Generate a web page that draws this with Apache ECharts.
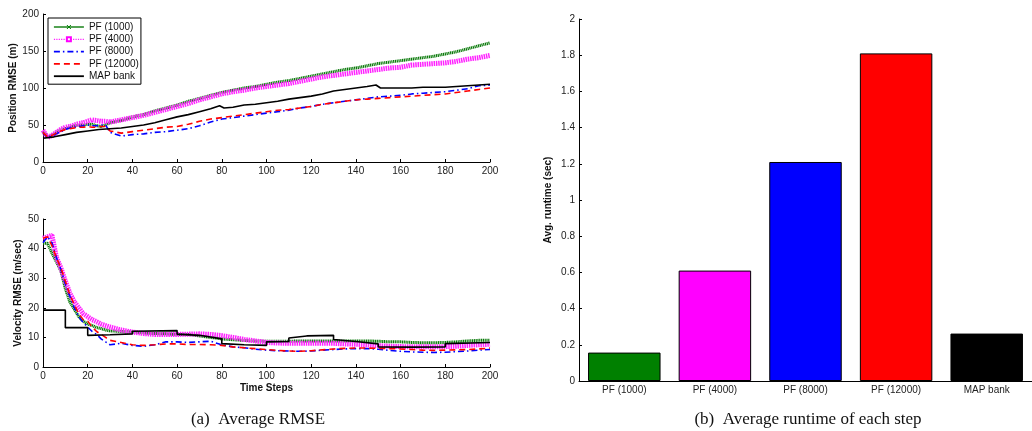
<!doctype html>
<html lang="en">
<head>
    <meta charset="utf-8">
    <title>Average RMSE and runtime</title>
    <script src="https://cdn.jsdelivr.net/npm/echarts@6/dist/echarts.min.js"></script>
    <style>
        html, body { margin: 0; padding: 0; background: #fff; }
    </style>
</head>
<body>

<div id="main" style="width:1032px;height:431px;"></div>

<script>
    // 时间步（位置/速度曲线共用）
    var timeSteps = [0, 2, 4, 6, 8, 10, 12, 14, 16, 18, 20, 22, 24, 26, 28, 30,
        35, 40, 45, 50, 55, 60, 65, 70, 75, 80, 85, 90, 95, 100, 105, 110, 115, 120,
        125, 130, 135, 140, 145, 150, 155, 160, 165, 170, 175, 180, 185, 190, 195, 200];

    // Position RMSE (m)
    var pf1000Pos = [42, 34, 36, 40, 43, 45, 47, 49, 50, 50, 51, 51, 49, 48, 50, 53,
        56, 61, 64, 69, 73, 77, 82, 86, 90, 94, 97, 100, 102, 105, 108, 110, 113, 116,
        119, 122, 125, 127, 130, 133, 135, 137, 139, 141, 143, 146, 149, 153, 157, 161];
    var pf4000Pos = [43, 33, 36, 40, 44, 47, 48, 50, 52, 53, 55, 57, 56, 55, 55, 54,
        57, 60, 63, 67, 71, 75, 79, 84, 88, 92, 95, 97, 100, 102, 104, 106, 109, 112,
        115, 117, 119, 121, 123, 125, 127, 128, 131, 132, 133, 134, 136, 139, 141, 144];
    var pf8000Pos = [40, 33, 35, 38, 41, 44, 46, 47, 48, 49, 50, 49, 49, 50, 50, 40,
        35, 37, 38, 40, 41, 43, 45, 49, 54, 58, 60, 62, 64, 66, 68, 70, 73, 75,
        78, 80, 82, 84, 86, 88, 89, 90, 92, 93, 94, 95, 97, 99, 103, 104];
    var pf12000Pos = [40, 34, 36, 39, 42, 44, 45, 46, 47, 47, 48, 47, 47, 48, 48, 42,
        39, 41, 43, 45, 47, 48, 51, 55, 58, 60, 62, 64, 66, 68, 70, 71, 73, 75,
        78, 80, 82, 84, 85, 86, 87, 88, 89, 90, 91, 92, 94, 96, 98, 100];
    var mapPosSteps = [0, 5, 10, 15, 20, 25, 30, 35, 40, 45, 50, 55, 60, 65, 70, 75, 79, 81,
        85, 90, 95, 100, 105, 110, 115, 120, 125, 130, 135, 140, 145, 149, 151,
        155, 160, 165, 170, 175, 180, 185, 190, 195, 200];
    var mapPos = [32, 34, 37, 40, 42, 44, 45, 46, 48, 50, 53, 57, 61, 64, 68, 72, 76, 73,
        74, 77, 78, 80, 82, 85, 87, 89, 92, 96, 98, 100, 102, 104, 100,
        100, 100, 100, 101, 101, 101, 102, 103, 104, 105];

    // Velocity RMSE (m/sec)
    var pf1000Vel = [41.8, 41.8, 38.5, 35.5, 32.5, 26.5, 22, 19.5, 17, 15.5, 14.5, 14, 13.3, 13, 12.5, 12.2,
        12, 11.8, 11.5, 11.3, 11.2, 11, 11, 10.5, 10, 9.5, 9.2, 9, 8.8, 8.7, 8.7, 8.7, 8.8, 8.8,
        8.8, 8.8, 8.8, 8.8, 8.8, 8.7, 8.5, 8.5, 8.3, 8.2, 8.2, 8.3, 8.5, 8.8, 9, 9];
    var pf4000Vel = [43.5, 44, 44.5, 37, 33.5, 29, 25, 22, 20, 18, 17, 16, 15.3, 14.5, 14, 13.5,
        12.5, 11.8, 11.3, 11, 11, 11, 11.1, 11.2, 11, 10.6, 10, 9.3, 8.8, 8.3, 8.1, 8, 8, 8,
        8, 8, 7.8, 7.7, 7.5, 7.2, 7, 6.9, 6.8, 6.8, 6.8, 6.9, 7, 7.3, 7.5, 7.7];
    var pf8000Vel = [42, 44, 42, 37, 33, 28, 24, 20, 17, 15, 13.5, 12, 11, 9.5, 8.5, 7.5,
        8, 7.3, 7, 7.5, 8.5, 8.5, 8.3, 8.5, 8.7, 7.5, 6.8, 6.5, 6, 5.7, 5.5, 5.4, 5.3, 5.4,
        5.7, 5.9, 6.1, 6.2, 6.2, 6, 5.6, 5.3, 5.1, 5, 4.9, 5, 5.2, 5.4, 5.7, 5.9];
    var pf12000Vel = [43.5, 44, 41, 37, 33.5, 29, 24.5, 21, 18, 16, 15.5, 13.5, 12, 11, 10, 9,
        8.3, 7.5, 7.3, 7.5, 7.8, 7.8, 7.6, 7.6, 7.5, 7.3, 6.8, 6.5, 6.2, 5.9, 5.6, 5.4, 5.3, 5.5,
        5.8, 6.1, 6.3, 6.4, 6.4, 6.3, 6.2, 6.1, 5.9, 5.7, 5.6, 5.7, 5.8, 5.9, 6.1, 6.4];
    var mapVelSteps = [0, 10, 10, 20, 20, 30, 40, 40, 60, 60, 70, 80, 80, 90, 100, 100, 110, 110,
        118, 130, 130, 140, 140, 150, 150, 165, 180, 180, 200];
    var mapVel = [19.2, 19.2, 13.3, 13.3, 10.7, 10.9, 11.2, 12.1, 12.3, 11.1, 10.7, 9.5, 7.9, 7.5,
        7.3, 8.5, 8.6, 9.8, 10.5, 10.7, 9.3, 8.6, 8.0, 7.8, 6.8, 6.7, 6.8, 7.9, 8.3];

    // 平均运行时间
    var methods = ['PF (1000)', 'PF (4000)', 'PF (8000)', 'PF (12000)', 'MAP bank'];
    var runtimes = [0.157, 0.61, 1.21, 1.81, 0.262];

    var xTicks = {min: 0, max: 200, interval: 20};
    var posTicks = {min: 0, max: 200, interval: 50};
    var velTicks = {min: 0, max: 50, interval: 10};
    var runtimeTicks = {min: 0, max: 2, interval: 0.2};

    var barColors = ['#008000', '#ff00ff', '#0000ff', '#ff0000', '#000000'];
    var sansFont = '"Liberation Sans", Arial, sans-serif';

    var pairs = function (xs, ys) {
        return xs.map(function (x, i) { return [x, ys[i]]; });
    };

    var baseAxis = function (extra) {
        var a = {
            axisLine: {show: true, onZero: false, lineStyle: {color: '#000', width: 1}},
            axisTick: {show: true, inside: true, length: 3, lineStyle: {color: '#000'}},
            axisLabel: {color: '#222', fontSize: 10, fontFamily: sansFont, margin: 4},
            splitLine: {show: false},
            nameTextStyle: {color: '#111', fontSize: 10, fontWeight: 'bold', fontFamily: sansFont}
        };
        for (var k in extra) a[k] = extra[k];
        return a;
    };

    var crossSymbol = 'path://M0,0L10,10M10,0L0,10';

    // 曲线样式（按方法）
    var lineSeries = function (name, data, xi, yi, kind) {
        var s = {
            name: name,
            type: 'line',
            xAxisIndex: xi,
            yAxisIndex: yi,
            data: data,
            showSymbol: false,
            symbol: 'none',
            animation: false
        };
        if (kind === 0) {
            s.symbol = crossSymbol;
            s.itemStyle = {color: '#008000', borderColor: '#008000', borderWidth: 1};
            s.lineStyle = {color: '#0a7a0a', width: 3, type: [1.2, 0.6]};
        } else if (kind === 1) {
            s.symbol = 'emptyRect';
            s.itemStyle = {color: '#ff00ff'};
            s.lineStyle = {color: '#ff22ff', width: 5, type: [1.5, 0.8]};
        } else if (kind === 2) {
            s.itemStyle = {color: '#0000ff'};
            s.lineStyle = {color: '#0000ff', width: 1.6, type: [6, 3, 1.5, 3]};
        } else if (kind === 3) {
            s.itemStyle = {color: '#ff0000'};
            s.lineStyle = {color: '#ff0000', width: 1.6, type: [6, 4]};
        } else {
            s.itemStyle = {color: '#000'};
            s.lineStyle = {color: '#000', width: 1.6, type: 'solid'};
        }
        return s;
    };

    var myChart = echarts.init(document.getElementById('main'));

    var option = {
        backgroundColor: '#fff',
        animation: false,
        grid: [
            {left: 43, top: 14, width: 447, height: 148},
            {left: 43, top: 219, width: 447, height: 148},
            {left: 579, top: 19, width: 459, height: 362}
        ],
        legend: {
            orient: 'vertical',
            left: 48,
            top: 18,
            padding: [4, 2, 3, 5],
            itemGap: 2.3,
            itemWidth: 30,
            itemHeight: 5,
            backgroundColor: '#fff',
            borderColor: '#000',
            borderWidth: 1,
            borderRadius: 0,
            textStyle: {color: '#111', fontSize: 10, fontFamily: sansFont},
            data: [
                {name: 'PF (1000)', lineStyle: {width: 1.4, type: 'solid'}, itemStyle: {borderWidth: 1}},
                {name: 'PF (4000)', lineStyle: {width: 1.2, type: 'dotted'}},
                {name: 'PF (8000)', lineStyle: {width: 1.8}, itemStyle: {opacity: 0}},
                {name: 'PF (12000)', lineStyle: {width: 1.8}, itemStyle: {opacity: 0}},
                {name: 'MAP bank', lineStyle: {width: 1.8}, itemStyle: {opacity: 0}}
            ]
        },
        xAxis: [
            baseAxis({type: 'value', gridIndex: 0, min: xTicks.min, max: xTicks.max, interval: xTicks.interval}),
            baseAxis({type: 'value', gridIndex: 1, min: xTicks.min, max: xTicks.max, interval: xTicks.interval,
                name: 'Time Steps', nameLocation: 'middle', nameGap: 16}),
            baseAxis({type: 'category', gridIndex: 2, data: methods,
                axisTick: {show: false}})
        ],
        yAxis: [
            baseAxis({type: 'value', gridIndex: 0, min: posTicks.min, max: posTicks.max, interval: posTicks.interval,
                name: 'Position RMSE (m)', nameLocation: 'middle', nameGap: 23}),
            baseAxis({type: 'value', gridIndex: 1, min: velTicks.min, max: velTicks.max, interval: velTicks.interval,
                name: 'Velocity RMSE (m/sec)', nameLocation: 'middle', nameGap: 20}),
            baseAxis({type: 'value', gridIndex: 2, min: runtimeTicks.min, max: runtimeTicks.max, interval: runtimeTicks.interval,
                name: 'Avg. runtime (sec)', nameLocation: 'middle', nameGap: 26})
        ],
        series: [
            lineSeries('PF (1000)', pairs(timeSteps, pf1000Pos), 0, 0, 0),
            lineSeries('PF (4000)', pairs(timeSteps, pf4000Pos), 0, 0, 1),
            lineSeries('PF (8000)', pairs(timeSteps, pf8000Pos), 0, 0, 2),
            lineSeries('PF (12000)', pairs(timeSteps, pf12000Pos), 0, 0, 3),
            lineSeries('MAP bank', pairs(mapPosSteps, mapPos), 0, 0, 4),

            lineSeries('PF (1000)', pairs(timeSteps, pf1000Vel), 1, 1, 0),
            lineSeries('PF (4000)', pairs(timeSteps, pf4000Vel), 1, 1, 1),
            lineSeries('PF (8000)', pairs(timeSteps, pf8000Vel), 1, 1, 2),
            lineSeries('PF (12000)', pairs(timeSteps, pf12000Vel), 1, 1, 3),
            lineSeries('MAP bank', pairs(mapVelSteps, mapVel), 1, 1, 4),

            {
                name: 'runtime',
                type: 'bar',
                xAxisIndex: 2,
                yAxisIndex: 2,
                barCategoryGap: '20%',
                data: runtimes.map(function (v, i) {
                    return {value: v, itemStyle: {color: barColors[i]}};
                }),
                itemStyle: {borderColor: '#000', borderWidth: 1}
            }
        ],
        graphic: [
            {type: 'text', x: 258, y: 420,
                style: {text: '(a)  Average RMSE', align: 'center', verticalAlign: 'middle',
                    font: '17px "Liberation Serif", "Times New Roman", serif', fill: '#111'}},
            {type: 'text', x: 808, y: 420,
                style: {text: '(b)  Average runtime of each step', align: 'center', verticalAlign: 'middle',
                    font: '17px "Liberation Serif", "Times New Roman", serif', fill: '#111'}}
        ]
    };

    myChart.setOption(option);
</script>
</body>
</html>
